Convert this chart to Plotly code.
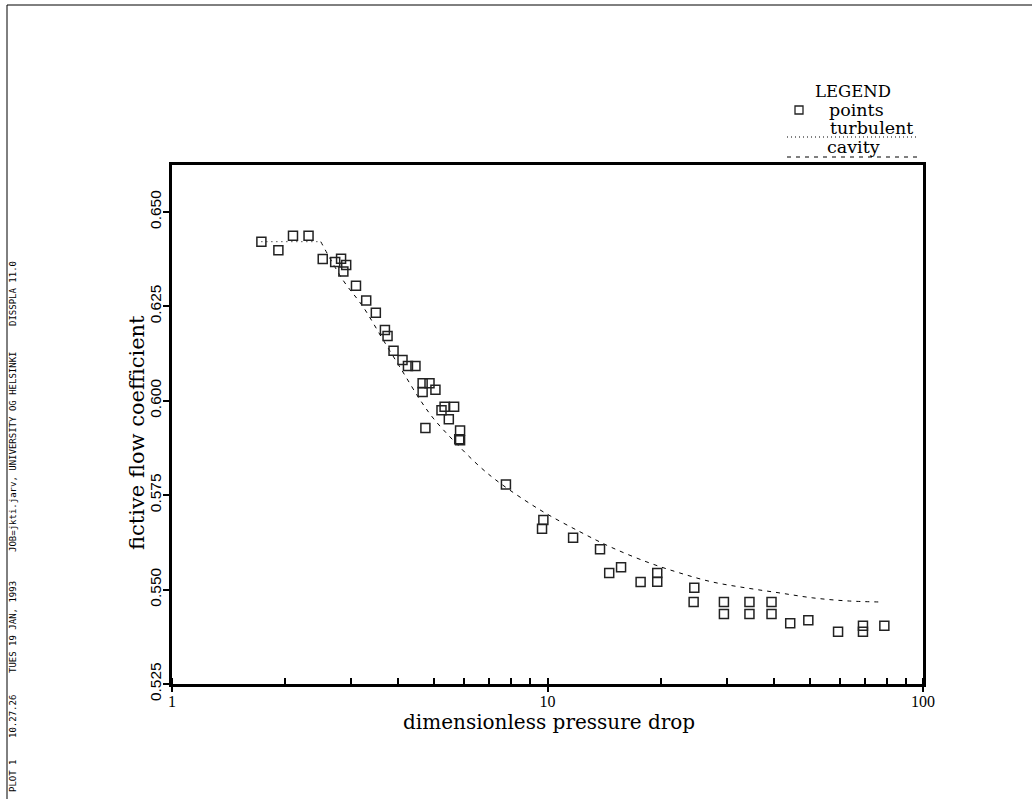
import plotly.graph_objects as go

# ---------------- data ----------------
pressure_drop = [1.73, 1.92, 2.10, 2.31, 2.52, 2.72, 2.82, 2.91, 2.86, 3.09,
                 3.29, 3.49, 3.69, 3.75, 3.89, 4.11, 4.25, 4.45, 4.65, 4.85,
                 4.65, 5.03, 5.32, 5.64, 5.22, 5.46, 4.73, 5.85, 5.82, 5.85,
                 7.75, 9.75, 9.67, 11.7, 13.8, 14.6, 15.7, 17.7, 19.6, 19.6,
                 24.6, 24.5, 29.5, 29.5, 34.5, 34.5, 39.5, 39.5, 44.3, 49.5,
                 59.4, 69.2, 69.2, 78.9]
flow_coeff = [0.6421, 0.6398, 0.6437, 0.6437, 0.6375, 0.6367, 0.6376, 0.6359, 0.6342, 0.6304,
              0.6265, 0.6233, 0.6187, 0.6171, 0.6132, 0.6108, 0.6092, 0.6092, 0.6046, 0.6046,
              0.6023, 0.6029, 0.5984, 0.5984, 0.5975, 0.5951, 0.5928, 0.5921, 0.5898, 0.5895,
              0.5778, 0.5684, 0.5661, 0.5637, 0.5607, 0.5544, 0.5559, 0.5520, 0.5544, 0.5521,
              0.5505, 0.5467, 0.5467, 0.5435, 0.5467, 0.5435, 0.5467, 0.5435, 0.5411, 0.5419,
              0.5388, 0.5404, 0.5388, 0.5404]

turbulent_x = [1.73, 2.49]
turbulent_y = [0.6421, 0.6421]

cavity_x = [2.49, 2.85, 3.23, 3.65, 4.12, 4.58, 4.96, 5.60, 6.61, 7.47,
            9.55, 12.2, 14.7, 18.4, 22.5, 27.5, 34.0, 41.6, 50.9, 62.8, 77.8]
cavity_y = [0.6421, 0.6320, 0.6248, 0.6161, 0.6076, 0.6002, 0.5954, 0.5896, 0.5825, 0.5782,
            0.5711, 0.5653, 0.5613, 0.5573, 0.5544, 0.5520, 0.5504, 0.5491, 0.5478, 0.5470, 0.5467]

y_ticks = [0.525, 0.550, 0.575, 0.600, 0.625, 0.650]
x_tick_labels = ["1", "10", "100"]
x_tick_vals = [1, 10, 100]

legend_labels = ["points", "turbulent", "cavity"]
footer_texts = ["PLOT 1", "10.27.26", "TUES 19 JAN, 1993",
                "JOB=jkti.jarv, UNIVERSITY OG HELSINKI", "DISSPLA 11.0"]

# ---------------- layout geometry (pixels) ----------------
W, H = 1032, 799
L, R, T, B = 172, 923, 165, 684


def px(x):
    return (x - L) / (R - L)


def py(y):
    return (B - y) / (B - T)


SERIF = "DejaVu Serif"
TICKSERIF = "Liberation Serif"
SANS = "Liberation Sans"
MONO = "DejaVu Sans Mono"

fig = go.Figure()

fig.add_trace(go.Scatter(
    x=turbulent_x, y=turbulent_y, mode="lines",
    line=dict(color="black", width=1, dash="1px,4px"),
    showlegend=False, hoverinfo="skip"))

fig.add_trace(go.Scatter(
    x=cavity_x, y=cavity_y, mode="lines", line_shape="spline",
    line=dict(color="black", width=1, dash="4px,5px"),
    showlegend=False, hoverinfo="skip"))

fig.add_trace(go.Scatter(
    x=pressure_drop, y=flow_coeff, mode="markers",
    marker=dict(symbol="square-open", size=9, color="#222222",
                line=dict(width=1.5, color="#222222")),
    showlegend=False))

fig.update_xaxes(
    type="log", range=[0, 2],
    tickmode="array", tickvals=x_tick_vals, ticktext=x_tick_labels,
    ticks="outside", ticklen=5, tickwidth=1.5, tickcolor="black",
    ticklabelstandoff=-4,
    minor=dict(dtick="D1", ticks="inside", ticklen=6, tickwidth=1.5,
               tickcolor="black", showgrid=False),
    showline=True, linewidth=3, linecolor="black", mirror=True,
    showgrid=False, zeroline=False,
    tickfont=dict(family=TICKSERIF, size=16, color="black"),
)

fig.update_yaxes(
    range=[0.525, 0.6624],
    tickmode="array", tickvals=y_ticks,
    ticktext=[f"{v:.3f}" for v in y_ticks],
    tickangle=-90,
    ticks="outside", ticklen=6, tickwidth=1.5, tickcolor="black",
    ticklabelstandoff=-4,
    showline=True, linewidth=3, linecolor="black", mirror=True,
    showgrid=False, zeroline=False,
    tickfont=dict(family=SANS, size=15.5, color="black"),
)

annotations = [
    dict(text="dimensionless pressure drop", x=px(549), y=py(722),
         font=dict(family=SERIF, size=20, color="black")),
    dict(text="fictive flow coefficient", x=px(137), y=py(433), textangle=-90,
         font=dict(family=SERIF, size=21, color="black")),
    dict(text="LEGEND", x=px(853), y=py(91),
         font=dict(family=SERIF, size=16.5, color="black")),
    dict(text=legend_labels[0], x=px(856), y=py(110),
         font=dict(family=SERIF, size=17.5, color="black")),
    dict(text=legend_labels[1], x=px(871), y=py(128),
         font=dict(family=SERIF, size=17.5, color="black")),
    dict(text=legend_labels[2], x=px(853), y=py(147),
         font=dict(family=SERIF, size=17.5, color="black")),
]
footer_y = [776, 717, 627, 452, 294]
for txt, yy in zip(footer_texts, footer_y):
    annotations.append(dict(text=txt, x=px(13), y=py(yy), textangle=-90,
                            font=dict(family=MONO, size=9, color="black")))
for a in annotations:
    a.update(xref="paper", yref="paper", xanchor="center", yanchor="middle",
             showarrow=False)

shapes = [
    # page border (top and left)
    dict(type="line", x0=px(7), x1=px(1032), y0=py(5), y1=py(5),
         line=dict(color="black", width=1)),
    dict(type="line", x0=px(7), x1=px(7), y0=py(5), y1=py(799),
         line=dict(color="black", width=1)),
    # legend marker for points
    dict(type="rect", x0=px(795), x1=px(803), y0=py(106), y1=py(114),
         line=dict(color="#222222", width=1.3)),
    # legend line samples
    dict(type="line", x0=px(787), x1=px(918), y0=py(137), y1=py(137),
         line=dict(color="black", width=1, dash="1px,3px")),
    dict(type="line", x0=px(787), x1=px(918), y0=py(157), y1=py(157),
         line=dict(color="black", width=1, dash="4px,5px")),
]
for s in shapes:
    s.update(xref="paper", yref="paper")

fig.update_layout(
    width=W, height=H,
    margin=dict(l=L, r=W - R, t=T, b=H - B, pad=0),
    paper_bgcolor="white", plot_bgcolor="white",
    annotations=annotations, shapes=shapes,
    showlegend=False,
)

fig.write_html("out.html")
